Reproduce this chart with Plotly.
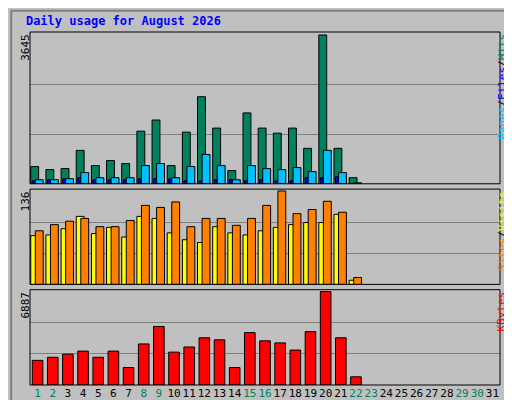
import plotly.graph_objects as go

days = list(range(1, 32))
hits = [422, 347, 372, 818, 446, 570, 496, 1289, 1562, 446, 1265, 2133, 1364, 322, 1736, 1364, 1240, 1364, 868, 3645, 868, 149]
files = [99, 99, 124, 273, 149, 149, 149, 446, 496, 149, 422, 719, 446, 99, 446, 372, 347, 397, 298, 818, 273, 25]
pages = [74, 99, 124, 149, 99, 99, 99, 124, 124, 124, 74, 74, 99, 99, 74, 99, 74, 74, 149, 149, 173, 0]
visits = [78, 87, 92, 96, 84, 84, 93, 115, 112, 120, 84, 96, 96, 86, 96, 115, 136, 103, 109, 121, 105, 10]
sites = [71, 72, 81, 99, 74, 83, 69, 99, 96, 75, 65, 61, 84, 75, 72, 78, 83, 87, 90, 90, 102, 6]
kbytes = [1816, 2043, 2270, 2497, 2043, 2497, 1287, 3027, 4314, 2422, 2800, 3481, 3330, 1287, 3860, 3254, 3103, 2573, 3935, 6887, 3481, 605]
weekend = [1, 2, 8, 9, 15, 16, 22, 23, 29, 30]

n = len(hits)
x = days[:n]
line = dict(color="black", width=1)

fig = go.Figure()
fig.add_bar(x=x, y=hits, offset=-0.45, width=0.52, marker=dict(color="#00805c", line=line), yaxis="y")
fig.add_bar(x=x, y=pages, offset=-0.35, width=0.2, marker=dict(color="#0000ff", line=line), yaxis="y")
fig.add_bar(x=x, y=files, offset=-0.15, width=0.52, marker=dict(color="#00c0ff", line=line), yaxis="y")
fig.add_bar(x=x, y=sites, offset=-0.45, width=0.52, marker=dict(color="#ffff00", line=line), yaxis="y2")
fig.add_bar(x=x, y=visits, offset=-0.15, width=0.52, marker=dict(color="#ff8000", line=line), yaxis="y2")
fig.add_bar(x=x, y=kbytes, offset=-0.35, width=0.7, marker=dict(color="#ff0000", line=line), yaxis="y3")

ticktext = ['<span style="color:%s">%d</span>' % ("#00805c" if d in weekend else "black", d) for d in days]

def yax(dom, mx):
    return dict(domain=dom, range=[0, mx * 1.02], tickvals=[mx / 3, mx * 2 / 3], showticklabels=False,
                gridcolor="#808080", gridwidth=1, zeroline=False, showline=False, fixedrange=True,
                automargin=False)

fig.update_layout(
    width=512, height=400, barmode="overlay", showlegend=False,
    paper_bgcolor="#c0c0c0", plot_bgcolor="#c0c0c0",
    margin=dict(l=22, r=20, t=24, b=23, autoexpand=False),
    font=dict(family="DejaVu Sans Mono", size=11, color="black"),
    xaxis=dict(range=[0.5, 31.5], tickvals=days, ticktext=ticktext, showgrid=False, ticks="",
               anchor="y3", tickangle=0, automargin=False, tickfont=dict(size=11)),
    yaxis3=yax([0, 0.27], max(kbytes)),
    yaxis2=yax([0.285, 0.555], max(visits)),
    yaxis=yax([0.57, 1], max(hits)),
    title=dict(text="<b>Daily usage for August 2026</b>", x=0.035, y=0.978, xanchor="left",
               font=dict(family="DejaVu Sans Mono", size=12, color="#0000ff")),
)

for y0, y1 in [(0, 0.27), (0.285, 0.555), (0.57, 1)]:
    fig.add_shape(type="rect", xref="paper", yref="paper", x0=0, x1=1, y0=y0, y1=y1,
                  line=dict(color="black", width=1))
fig.add_shape(type="rect", xref="paper", yref="paper", x0=-0.04, x1=1.038, y0=-0.058, y1=1.06,
              line=dict(color="#808080", width=2))

fig.add_annotation(xref="paper", yref="paper", x=-0.028, y=1, yanchor="top", textangle=-90, showarrow=False,
                   text=str(max(hits)), font=dict(size=11))
fig.add_annotation(xref="paper", yref="paper", x=-0.028, y=0.555, yanchor="top", textangle=-90, showarrow=False,
                   text=str(max(visits)), font=dict(size=11))
fig.add_annotation(xref="paper", yref="paper", x=-0.028, y=0.27, yanchor="top", textangle=-90, showarrow=False,
                   text=str(max(kbytes)), font=dict(size=11))

fig.add_annotation(xref="paper", yref="paper", x=1.022, y=1, yanchor="top", textangle=-90, showarrow=False,
                   text='<span style="color:#00c0ff">Pages</span>/<span style="color:#0000ff">Files</span>/<span style="color:#00805c">Hits</span>',
                   font=dict(size=11, color="black"))
fig.add_annotation(xref="paper", yref="paper", x=1.022, y=0.555, yanchor="top", textangle=-90, showarrow=False,
                   text='<span style="color:#ff8000">Sites</span>/<span style="color:#ffff00">Visits</span>',
                   font=dict(size=11, color="black"))
fig.add_annotation(xref="paper", yref="paper", x=1.022, y=0.27, yanchor="top", textangle=-90, showarrow=False,
                   text='<span style="color:#ff0000">KBytes</span>', font=dict(size=11))

fig.write_html("out.html")
